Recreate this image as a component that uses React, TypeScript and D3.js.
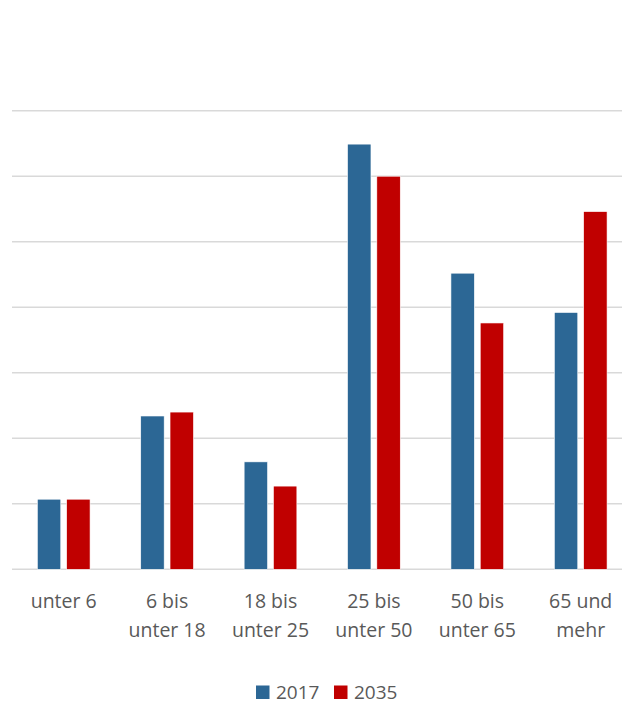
import React from "react";
import * as d3 from "d3";

const categories: string[][] = [
  ["unter 6"],
  ["6 bis", "unter 18"],
  ["18 bis", "unter 25"],
  ["25 bis", "unter 50"],
  ["50 bis", "unter 65"],
  ["65 und", "mehr"],
];
const seriesNames = ["2017", "2035"];
const values2017 = [1.07, 2.34, 1.64, 6.49, 4.52, 3.92];
const values2035 = [1.07, 2.4, 1.27, 6.0, 3.76, 5.46];
const gridTicks = [0, 1, 2, 3, 4, 5, 6, 7];
const colors = ["#2C6795", "#C00000"];

const W = 622;
const H = 704;

export default function App() {
  const keys = categories.map((c) => c.join(" "));
  const x = d3
    .scaleBand<string>()
    .domain(keys)
    .range([12, 632.4])
    .paddingInner(0.49)
    .paddingOuter(0.245);
  const xs = d3
    .scaleBand<string>()
    .domain(seriesNames)
    .range([0, x.bandwidth()])
    .paddingInner(0.2)
    .paddingOuter(0);
  const y = d3.scaleLinear().domain([0, 7]).range([569.3, 110.7]);
  const series = [values2017, values2035];
  const font = "'Open Sans', sans-serif";

  return (
    <div style={{ position: "absolute", left: 0, top: 0 }}>
      <svg width={W} height={H} style={{ display: "block", background: "#fff" }}>
        {gridTicks.map((t) => (
          <line
            key={t}
            x1={12}
            x2={W}
            y1={y(t)}
            y2={y(t)}
            stroke="#d9d9d9"
            strokeWidth={1.5}
          />
        ))}
        {keys.map((k, i) => (
          <g key={k} transform={`translate(${x(k)},0)`}>
            {seriesNames.map((s, j) => (
              <rect
                key={s}
                x={xs(s)}
                width={xs.bandwidth()}
                y={y(series[j][i])}
                height={y(0) - y(series[j][i])}
                fill={colors[j]}
                stroke="#ffffff"
                strokeWidth={0.6}
              />
            ))}
          </g>
        ))}
        {categories.map((lines, i) => (
          <text
            key={i}
            x={(x(keys[i]) as number) + x.bandwidth() / 2}
            y={608}
            textAnchor="middle"
            fontFamily={font}
            fontSize={19.5}
            fill="#595959"
          >
            {lines.map((l, li) => (
              <tspan key={li} x={(x(keys[i]) as number) + x.bandwidth() / 2} dy={li === 0 ? 0 : 29}>
                {l}
              </tspan>
            ))}
          </text>
        ))}
        {seriesNames.map((s, j) => {
          const lx = [256, 334][j];
          return (
            <g key={s}>
              <rect x={lx} y={685.5} width={13.5} height={13.5} fill={colors[j]} />
              <text
                x={lx + 20}
                y={698.5}
                fontFamily={font}
                fontSize={19}
                fill="#595959"
              >
                {s}
              </text>
            </g>
          );
        })}
      </svg>
    </div>
  );
}
